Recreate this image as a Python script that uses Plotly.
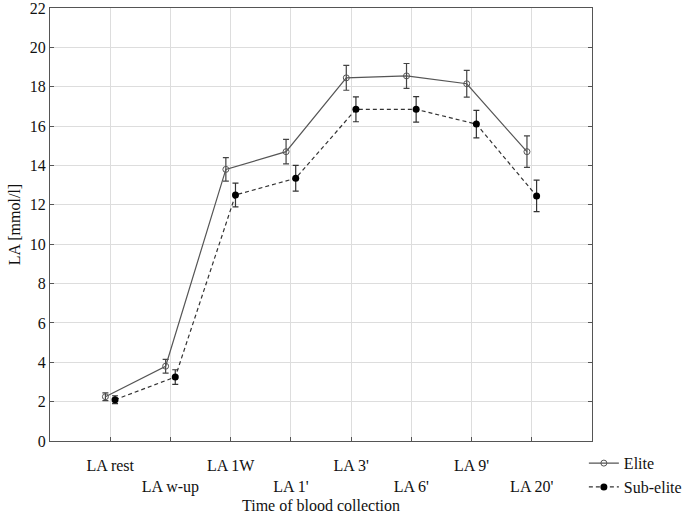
import plotly.graph_objects as go

categories = ["LA rest", "LA w-up", "LA 1W", "LA 1'", "LA 3'", "LA 6'", "LA 9'", "LA 20'"]
elite = [2.25, 3.8, 13.8, 14.7, 18.45, 18.55, 18.15, 14.7]
elite_err = [0.2, 0.35, 0.6, 0.62, 0.63, 0.63, 0.68, 0.8]
sub_elite = [2.1, 3.25, 12.5, 13.35, 16.85, 16.85, 16.1, 12.45]
sub_elite_err = [0.2, 0.37, 0.6, 0.65, 0.63, 0.65, 0.7, 0.8]
y_ticks = list(range(0, 23, 2))

offset = 0.08
idx = list(range(len(categories)))
x_elite = [i - offset for i in idx]
x_sub = [i + offset for i in idx]
ticktext = [c if i % 2 == 0 else "<br>" + c for i, c in enumerate(categories)]

font_family = "Liberation Serif, Times New Roman, serif"

fig = go.Figure()
fig.add_trace(go.Scatter(
    x=x_elite, y=elite, name="Elite", mode="lines+markers",
    line=dict(color="#555555", width=1.2, dash="solid"),
    marker=dict(symbol="circle-open", size=6, color="#555555", line=dict(width=1)),
    error_y=dict(type="data", array=elite_err, visible=True, color="#444444", thickness=1.2, width=3),
))
fig.add_trace(go.Scatter(
    x=x_sub, y=sub_elite, name="Sub-elite", mode="lines+markers",
    line=dict(color="#333333", width=1.2, dash="4px,3px"),
    marker=dict(symbol="circle", size=7, color="#000000"),
    error_y=dict(type="data", array=sub_elite_err, visible=True, color="#333333", thickness=1.2, width=3),
))

fig.update_layout(
    width=693, height=515,
    margin=dict(l=50, r=101, t=8, b=74, autoexpand=False),
    paper_bgcolor="white", plot_bgcolor="white",
    font=dict(family=font_family, size=16, color="#111111"),
    showlegend=True,
    legend=dict(x=0.985, y=-0.012, xanchor="left", yanchor="top", bgcolor="rgba(0,0,0,0)",
                font=dict(size=16), tracegroupgap=0, itemwidth=30),
    xaxis=dict(
        range=[-1, 8], tickmode="array", tickvals=idx, ticktext=ticktext,
        showgrid=True, gridcolor="#dddddd", gridwidth=1,
        showline=True, linecolor="#555555", linewidth=1.2, mirror=True,
        ticks="inside", ticklen=4, tickcolor="#555555", ticklabelstandoff=10,
        zeroline=False,
        title=dict(text="Time of blood collection", font=dict(size=16), standoff=4),
    ),
    yaxis=dict(
        range=[0, 22], tickmode="array", tickvals=y_ticks,
        showgrid=True, gridcolor="#dddddd", gridwidth=1,
        showline=True, linecolor="#555555", linewidth=1.2, mirror="ticks",
        ticks="inside", ticklen=4, tickcolor="#555555", ticklabeloverflow="allow",
        zeroline=False,
        title=dict(text="LA [mmol/l]", font=dict(size=16), standoff=5),
    ),
)

fig.write_html("out.html", config={"displayModeBar": False},
               post_script="document.body.style.margin='0';document.body.style.overflow='hidden';")
